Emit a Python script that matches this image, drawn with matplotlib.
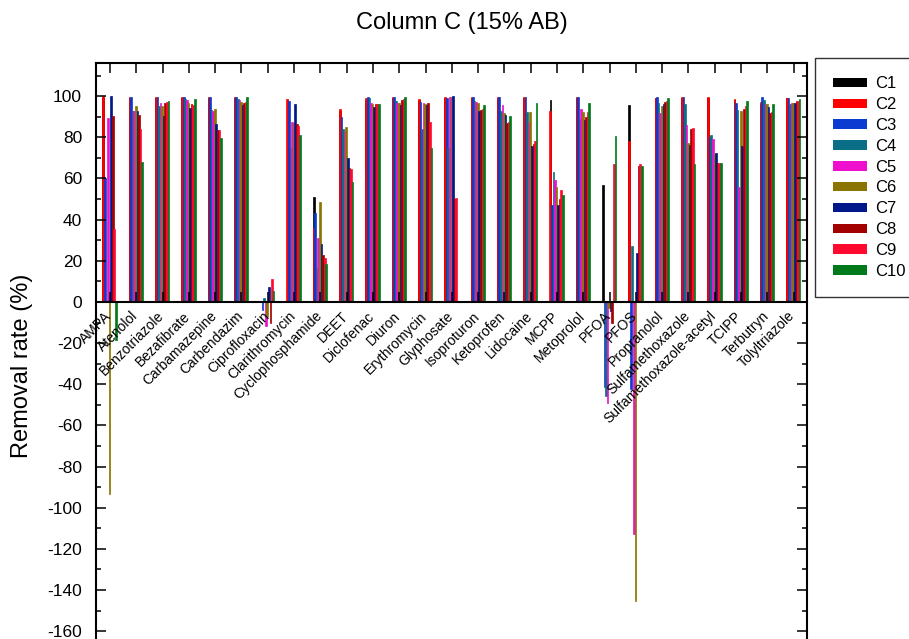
import numpy as np
import matplotlib
matplotlib.use("Agg")
import matplotlib.pyplot as plt
import matplotlib.transforms as mtransforms
from matplotlib.patches import Patch

plt.rcParams["font.family"] = ["Liberation Sans", "DejaVu Sans"]
plt.rcParams["axes.unicode_minus"] = False

# --- datos: tasa de eliminacion (%) por compuesto y columna ---
COMPUESTOS = ["AMPA", "Atenolol", "Benzotriazole", "Bezafibrate", "Carbamazepine",
              "Carbendazim", "Ciprofloxacin", "Clarithromycin", "Cyclophosphamide",
              "DEET", "Diclofenac", "Diuron", "Erythromycin", "Glyphosate",
              "Isoproturon", "Ketoprofen", "Lidocaine", "MCPP", "Metoprolol",
              "PFOA", "PFOS", "Propranolol", "Sulfamethoxazole",
              "Sulfamethoxazole-acetyl", "TCIPP", "Terbutryn", "Tolyltriazole"]

C1 = [99, 99, 99, 99, 99, 99, 0, 98, 51.2, 93, 98, 99, 98, 99, 99, 99, 99, 98.0, 99,
      56.6, 95.6, 99, 99, 99, 98, 96, 99]
C2 = [100, 99.7, 99.7, 99.7, 99.7, 99.7, 0, 98.4, 36.1, 93.8, 98.9, 99.7, 98.7, 99.7,
      99.7, 99.7, 99.7, 92.7, 99.7, 0, 78.4, 99.2, 99.7, 99.7, 98.7, 97.0, 99.2]
C3 = [60, 99.5, 99.7, 99.7, 99.7, 99.7, -3.9, 97.6, 43.1, 89.8, 99.7, 99.7, 97.0, 99.0,
      99.7, 99.7, 99.7, 47.0, 99.7, -41.5, -42.5, 99.7, 99.5, 80.2, 96.7, 99.7, 99.2]
C4 = [0, 92.7, 95.0, 98.7, 93.5, 98.7, 1.9, 75.0, 16.3, 84.0, 98.9, 97.6, 84.0, 74.8,
      97.5, 93.0, 92.4, 63.2, 88.7, -45.8, 27.3, 96.7, 96.3, 80.9, 93.5, 98.0, 96.3]
C5 = [89.4, 93.0, 96.7, 98.0, 93.0, 98.0, -11.8, 87.4, 31.2, 83.0, 96.7, 96.7, 96.7,
      99.7, 97.2, 95.5, 87.4, 59.2, 93.8, -49.0, -113.0, 91.9, 85.9, 79.4, 55.8, 96.3, 96.7]
C6 = [-93.5, 95.4, 95.0, 96.7, 93.8, 97.0, -6.9, 87.0, 48.5, 85.0, 96.0, 96.5, 96.0,
      99.5, 96.7, 92.0, 92.4, 55.8, 92.2, -3.0, -145.5, 95.0, 77.3, 72.0, 92.7, 96.0, 96.7]
C7 = [100, 92.7, 90.6, 94.3, 86.7, 95.6, 7.1, 96.3, 28.1, 69.8, 94.6, 95.6, 95.5, 100.3,
      92.7, 91.0, 76.0, 47.0, 88.2, -4.5, 23.6, 96.4, 76.5, 72.4, 76.0, 94.6, 96.7]
C8 = [90.6, 91.0, 96.5, 96.0, 83.8, 96.7, -10.2, 86.5, 22.8, 65.0, 96.0, 98.0, 96.7,
      50.0, 93.5, 87.0, 77.0, 50.0, 90.0, -10.0, 66.0, 97.0, 84.0, 67.3, 94.0, 92.0, 97.6]
C9 = [35.4, 84.0, 97.0, 95.5, 83.8, 97.0, 11.3, 85.4, 21.5, 64.6, 96.3, 98.7, 87.5,
      50.4, 93.8, 87.4, 78.4, 54.3, 92.2, 67.2, 67.0, 97.6, 84.3, 67.3, 95.0, 92.2, 97.6]
C10 = [-18.5, 67.8, 97.7, 98.7, 79.7, 99.5, 5.2, 81.0, 18.4, 58.5, 96.3, 99.4, 74.6,
       0, 95.6, 90.6, 96.7, 52.2, 96.7, 80.8, 66.3, 99.2, 67.0, 67.3, 97.6, 96.3, 98.7]

SERIES = ["C1", "C2", "C3", "C4", "C5", "C6", "C7", "C8", "C9", "C10"]
VALORES = [C1, C2, C3, C4, C5, C6, C7, C8, C9, C10]
COLORES = ["#000000", "#FF0000", "#0B3BD0", "#0A6E86", "#EE10CC",
           "#8B7500", "#00188A", "#A30000", "#FF0A2E", "#007A1A"]
# desplazamiento de cada barra dentro del grupo (C1 queda tapada por C2)
DESPL = [-0.250, -0.255, -0.195, -0.135, -0.075, -0.015, 0.045, 0.105, 0.165, 0.225]
ANCHO = 0.065


def main():
    fig = plt.figure(figsize=(9.09, 6.39), dpi=100)
    ax = fig.add_axes([0.1056, -0.02, 0.782, 0.921])

    x = np.arange(len(COMPUESTOS))
    for nombre, vals, col, d in zip(SERIES, VALORES, COLORES, DESPL):
        ax.bar(x + d, vals, ANCHO, color=col, edgecolor=col, linewidth=0.5,
               label=nombre)

    ax.set_xlim(-0.53, 26.5)
    ax.set_ylim(-170, 116)
    ax.set_yticks(np.arange(-160, 101, 20))
    ax.set_yticks(np.arange(-170, 116, 10), minor=True)

    # eje x en y=0, ticks hacia dentro en todos los lados
    ax.spines["bottom"].set_position(("data", 0))
    for s in ax.spines.values():
        s.set_linewidth(1.5)
    ax.tick_params(axis="x", which="major", direction="in", top=True, length=7,
                   width=1.1, pad=5)
    ax.tick_params(axis="y", which="major", direction="in", right=True, length=7,
                   width=1.1, labelsize=12.5, pad=10)
    ax.tick_params(axis="y", which="minor", direction="in", right=True, length=3.5,
                   width=1.1)

    ax.set_xticks(x)
    ax.set_xticklabels(COMPUESTOS, fontsize=10)
    offset = mtransforms.ScaledTranslation(3 / 72, 0, fig.dpi_scale_trans)
    for lab in ax.get_xticklabels():
        lab.set_rotation(45)
        lab.set_ha("right")
        lab.set_va("top")
        lab.set_transform(lab.get_transform() + offset)

    fig.text(462 / 909, 1 - 23 / 639, "Column C (15% AB)", ha="center", va="center",
             fontsize=17)
    fig.text(22 / 909, 1 - 366 / 639, "Removal rate (%)", ha="center", va="center",
             rotation=90, fontsize=17)

    handles = [Patch(facecolor=c, edgecolor="none") for c in COLORES]
    leg = fig.legend(handles, SERIES, loc="upper left",
                     bbox_to_anchor=(815 / 909, 1 - 58 / 639),
                     bbox_transform=fig.transFigure, fontsize=12, frameon=True,
                     fancybox=False, edgecolor="black", handlelength=2.0,
                     handleheight=0.5, handletextpad=0.5, labelspacing=0.35,
                     borderpad=1.1, borderaxespad=0)
    leg.get_frame().set_linewidth(1.0)

    fig.savefig("out.png", dpi=100)


if __name__ == "__main__":
    main()
